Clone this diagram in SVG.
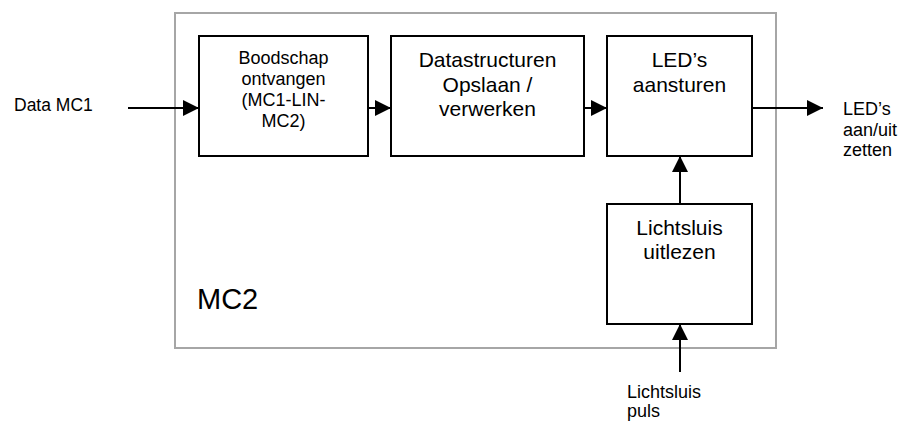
<svg xmlns="http://www.w3.org/2000/svg" width="907" height="423" viewBox="0 0 907 423">
<style>
text{font-family:"Liberation Sans",Arial,sans-serif;fill:#000}
.box{fill:#fff;stroke:#000;stroke-width:2}
.c{text-anchor:middle}
.conn line{stroke:#000;stroke-width:2}
</style>
<defs>
<marker id="ah" markerUnits="userSpaceOnUse" markerWidth="16" markerHeight="16" refX="16" refY="8" orient="auto">
<path d="M0,0 L16,8 L0,16 z" fill="#000"/>
</marker>
</defs>
<rect width="907" height="423" fill="#fff"/>
<g id="mc2">
<rect x="175" y="13" width="601" height="335" fill="none" stroke="#a6a6a6" stroke-width="2"/>
<text x="197" y="309" font-size="29">MC2</text>
</g>
<g id="boodschap">
<rect class="box" x="199" y="36" width="169" height="120"/>
<text class="c" font-size="18"><tspan x="283.5" y="64">Boodschap</tspan><tspan x="283.5" y="85">ontvangen</tspan><tspan x="283.5" y="106">(MC1-LIN-</tspan><tspan x="283.5" y="127">MC2)</tspan></text>
</g>
<g id="datastructuren">
<rect class="box" x="391" y="36" width="193" height="120"/>
<text class="c" font-size="21"><tspan x="487.5" y="67">Datastructuren</tspan><tspan x="487.5" y="92">Opslaan /</tspan><tspan x="487.5" y="116">verwerken</tspan></text>
</g>
<g id="leds">
<rect class="box" x="607" y="36" width="145" height="120"/>
<text class="c" font-size="21"><tspan x="679.5" y="67">LED’s</tspan><tspan x="679.5" y="92">aansturen</tspan></text>
</g>
<g id="lichtsluis">
<rect class="box" x="607" y="204" width="145" height="120"/>
<text class="c" font-size="21"><tspan x="679.5" y="235">Lichtsluis</tspan><tspan x="679.5" y="259">uitlezen</tspan></text>
</g>
<g id="data-mc1">
<text x="14" y="111" font-size="17.5">Data MC1</text>
</g>
<g id="leds-out">
<text font-size="18"><tspan x="843" y="115">LED’s</tspan><tspan x="843" y="136">aan/uit</tspan><tspan x="843" y="156">zetten</tspan></text>
</g>
<g id="lichtsluis-puls">
<text font-size="18"><tspan x="627" y="398">Lichtsluis</tspan><tspan x="627" y="417">puls</tspan></text>
</g>
<g id="connectors" class="conn">
<line x1="128" y1="108" x2="199" y2="108" marker-end="url(#ah)"/>
<line x1="368" y1="108" x2="391" y2="108" marker-end="url(#ah)"/>
<line x1="584" y1="108" x2="607" y2="108" marker-end="url(#ah)"/>
<line x1="752" y1="108" x2="823" y2="108" marker-end="url(#ah)"/>
<line x1="680" y1="204" x2="680" y2="156" marker-end="url(#ah)"/>
<line x1="680" y1="372" x2="680" y2="324" marker-end="url(#ah)"/>
</g>
</svg>
